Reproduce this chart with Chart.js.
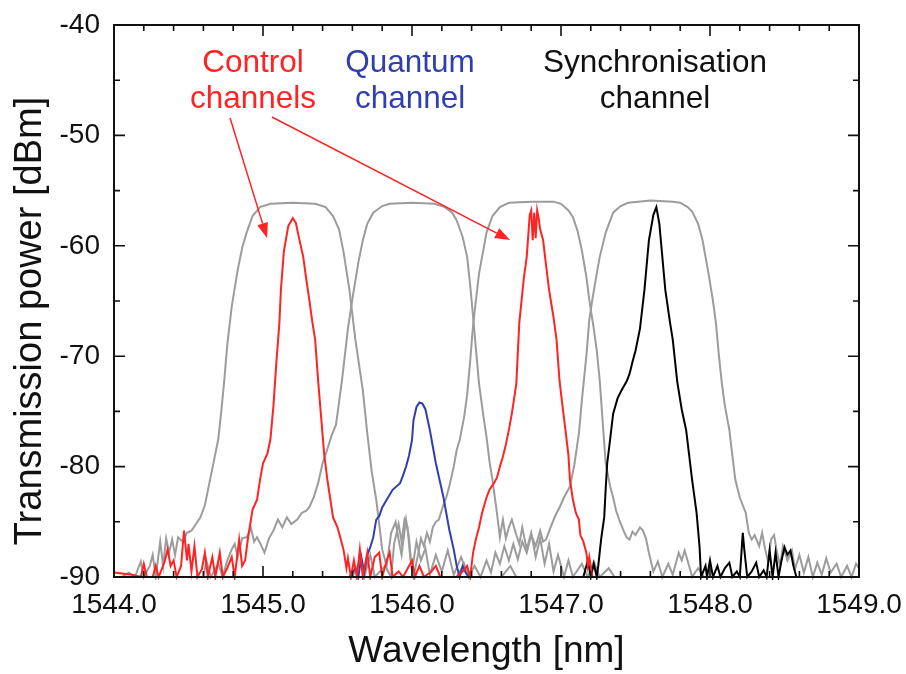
<!DOCTYPE html>
<html>
<head>
<meta charset="utf-8">
<script src="https://cdn.jsdelivr.net/npm/chart.js@4.4.1/dist/chart.umd.min.js"></script>
<style>
  html, body { margin: 0; padding: 0; background: #fff; }
</style>
</head>
<body>
<canvas id="spectrum" width="906" height="674"></canvas>
<script>
// axis ticks
const xTicks = [1544, 1545, 1546, 1547, 1548, 1549];
const yTicks = [-90, -80, -70, -60, -50, -40];

// filter transmission curves (grey), [wavelength nm, power dBm]
const filter1 = [
  [1544.00,-90],[1544.05,-90],[1544.10,-89.6],[1544.14,-90],[1544.18,-88.6],[1544.20,-90],[1544.24,-89],
  [1544.26,-88],[1544.28,-90],[1544.31,-86.8],[1544.33,-89],[1544.35,-86.5],[1544.37,-87.8],[1544.39,-86.6],
  [1544.41,-88],[1544.43,-86.4],[1544.46,-86.8],[1544.49,-86],[1544.52,-85.8],[1544.55,-85.2],[1544.58,-84.6],
  [1544.61,-83.5],[1544.64,-81.5],[1544.67,-79.5],[1544.70,-77.5],[1544.72,-75],[1544.74,-72.2],[1544.76,-69],
  [1544.79,-65.5],[1544.83,-62.2],[1544.86,-60.2],[1544.89,-58.8],[1544.93,-57.3],[1544.98,-56.5],[1545.05,-56.2],
  [1545.20,-56.1],[1545.35,-56.2],[1545.42,-56.5],[1545.47,-57.3],[1545.51,-58.5],[1545.54,-60.5],[1545.58,-64],
  [1545.62,-68.5],[1545.67,-73.1],[1545.70,-77],[1545.73,-80.5],[1545.76,-83],[1545.80,-87.5],[1545.83,-89],
  [1545.86,-86],[1545.89,-85],[1545.91,-86.6],[1545.93,-88],[1545.96,-84.8],[1545.98,-86.5],[1546.00,-89.5],
  [1546.03,-86.8],[1546.06,-88.5],[1546.09,-87.4],[1546.12,-89.8],[1546.16,-88],[1546.20,-89.5],[1546.24,-87.6],
  [1546.28,-89.8],[1546.33,-88.2],[1546.38,-90],[1546.60,-90],[1546.66,-89],[1546.70,-90],[1547.00,-90],
  [1547.50,-90],[1549.00,-90]
];
const filter2 = [
  [1544.00,-90],[1544.60,-90],[1544.62,-88.5],[1544.65,-90],[1544.70,-88.8],[1544.73,-90],[1544.76,-88.5],
  [1544.79,-87.5],[1544.81,-87],[1544.83,-88.2],[1544.86,-86.5],[1544.89,-86.4],[1544.92,-85.6],[1544.94,-86.8],
  [1544.96,-86.4],[1544.99,-87.2],[1545.01,-87.8],[1545.04,-86.5],[1545.07,-85.8],[1545.10,-84.8],[1545.13,-85.5],
  [1545.16,-84.6],[1545.19,-85.2],[1545.23,-84.8],[1545.26,-84.2],[1545.29,-84.0],[1545.31,-83.7],[1545.34,-82.8],
  [1545.37,-81.5],[1545.40,-79.7],[1545.43,-78.5],[1545.46,-77.2],[1545.49,-76.2],[1545.53,-72.2],[1545.57,-67.5],
  [1545.60,-64.8],[1545.64,-61.5],[1545.67,-59.5],[1545.70,-58.0],[1545.74,-57.0],[1545.80,-56.4],[1545.85,-56.2],
  [1546.00,-56.1],[1546.15,-56.2],[1546.22,-56.5],[1546.27,-57.0],[1546.30,-57.7],[1546.34,-59.2],[1546.37,-61],
  [1546.39,-63.5],[1546.41,-66.4],[1546.43,-69.5],[1546.45,-72.5],[1546.48,-75.5],[1546.50,-77.3],[1546.52,-79.5],
  [1546.54,-81.2],[1546.57,-84.2],[1546.59,-86.4],[1546.61,-84.8],[1546.63,-86.5],[1546.65,-85.5],[1546.67,-84.8],
  [1546.70,-86.2],[1546.72,-87],[1546.74,-85.5],[1546.77,-87.5],[1546.80,-86],[1546.83,-88.2],[1546.86,-86.5],
  [1546.89,-88.8],[1546.92,-87],[1546.95,-89.5],[1546.98,-88],[1547.02,-90],[1547.05,-88.5],[1547.08,-90],
  [1547.14,-88.8],[1547.18,-90],[1547.22,-88.6],[1547.26,-90],[1547.32,-89.2],[1547.36,-90],[1549.00,-90]
];
const filter3 = [
  [1544.00,-90],[1545.60,-90],[1545.65,-88.5],[1545.68,-90],[1545.72,-88],[1545.75,-90],[1545.82,-89],
  [1545.86,-90],[1545.88,-87],[1545.91,-85.2],[1545.93,-86.8],[1545.95,-84.8],[1545.97,-85.5],[1545.99,-88.5],
  [1546.01,-90],[1546.04,-88],[1546.06,-86.5],[1546.08,-87.2],[1546.10,-86],[1546.12,-86.8],[1546.14,-85.5],
  [1546.16,-85],[1546.18,-84.8],[1546.21,-83.5],[1546.23,-82.8],[1546.25,-81.8],[1546.28,-80],[1546.30,-78.5],
  [1546.32,-77.6],[1546.35,-75.5],[1546.37,-73.5],[1546.39,-70.5],[1546.41,-67.2],[1546.43,-64.8],[1546.45,-62.5],
  [1546.48,-60.3],[1546.50,-58.8],[1546.54,-57.3],[1546.59,-56.5],[1546.65,-56.1],[1546.80,-56.0],[1546.95,-56.0],
  [1547.00,-56.2],[1547.05,-56.8],[1547.08,-57.4],[1547.11,-58.6],[1547.14,-60.4],[1547.17,-62.8],[1547.19,-64.9],
  [1547.22,-67.5],[1547.24,-69.5],[1547.26,-72.2],[1547.28,-76],[1547.30,-79.7],[1547.33,-81.8],[1547.35,-82.8],
  [1547.37,-84],[1547.39,-84.8],[1547.42,-85.8],[1547.44,-86.4],[1547.46,-86.6],[1547.48,-85.9],[1547.50,-86.2],
  [1547.53,-85.5],[1547.55,-85.8],[1547.57,-86.5],[1547.59,-87.8],[1547.62,-89.5],[1547.65,-88.6],[1547.68,-90],
  [1547.72,-88.8],[1547.75,-89.8],[1547.79,-87.8],[1547.81,-88.5],[1547.83,-87.6],[1547.86,-89],[1547.88,-90],
  [1547.92,-89.2],[1547.96,-90],[1549.00,-90]
];
const filter4 = [
  [1544.00,-90],[1546.30,-90],[1546.35,-88.8],[1546.38,-90],[1546.42,-89],[1546.46,-90],[1546.50,-88.5],
  [1546.53,-89.6],[1546.56,-87.8],[1546.59,-88.8],[1546.62,-87.2],[1546.65,-88.5],[1546.68,-87],[1546.71,-88.4],
  [1546.74,-86.8],[1546.77,-87.8],[1546.80,-86.2],[1546.83,-87.2],[1546.86,-85.8],[1546.88,-86.8],[1546.90,-86.6],
  [1546.93,-85.5],[1546.96,-84.5],[1546.99,-83.7],[1547.02,-82.8],[1547.06,-81.8],[1547.09,-79.8],[1547.12,-77],
  [1547.14,-74],[1547.17,-70],[1547.19,-66.7],[1547.21,-64.9],[1547.24,-62.5],[1547.26,-61],[1547.30,-58.8],
  [1547.35,-57],[1547.40,-56.4],[1547.45,-56.1],[1547.60,-55.9],[1547.75,-56.0],[1547.80,-56.1],[1547.85,-56.5],
  [1547.88,-56.9],[1547.92,-58],[1547.95,-59.5],[1547.97,-61],[1547.99,-62.5],[1548.02,-65],[1548.04,-67],
  [1548.06,-70],[1548.08,-72.5],[1548.10,-74.5],[1548.13,-76.7],[1548.15,-79],[1548.17,-81.2],[1548.20,-82.8],
  [1548.22,-83.5],[1548.24,-84.2],[1548.26,-86],[1548.28,-86.6],[1548.30,-86.2],[1548.33,-87.2],[1548.35,-86],
  [1548.37,-87.5],[1548.39,-88.6],[1548.41,-86.6],[1548.43,-86.2],[1548.45,-87.8],[1548.47,-89],[1548.49,-87.2],
  [1548.52,-88.5],[1548.55,-87.6],[1548.57,-89.3],[1548.60,-88],[1548.63,-89.6],[1548.66,-88.2],[1548.69,-90],
  [1548.72,-88.7],[1548.75,-89.8],[1548.78,-88.3],[1548.81,-89.6],[1548.85,-88.8],[1548.88,-90],[1548.92,-89],
  [1548.95,-90],[1548.98,-88.8],[1549.00,-89.2]
];

// control channels (red)
const control = [
  [1544.00,-89.6],[1544.12,-89.8],[1544.18,-90],[1544.20,-88.8],[1544.22,-90],[1544.26,-90],[1544.28,-89],
  [1544.30,-90],[1544.34,-88.6],[1544.36,-87.5],[1544.38,-89],[1544.40,-88.5],[1544.42,-90],[1544.45,-89],
  [1544.47,-85.8],[1544.49,-88.5],[1544.50,-87],[1544.52,-89.5],[1544.54,-87.2],[1544.56,-90],[1544.59,-89.3],
  [1544.61,-87.8],[1544.63,-90],[1544.66,-88.2],[1544.68,-90],[1544.71,-87.8],[1544.73,-90],[1544.76,-89.2],
  [1544.79,-88.2],[1544.81,-90],[1544.84,-86.6],[1544.86,-89],[1544.88,-88.5],[1544.90,-86.4],[1544.93,-83.9],
  [1544.96,-83],[1544.98,-81.2],[1545.00,-79.7],[1545.03,-78.8],[1545.05,-77.5],[1545.07,-74.5],[1545.09,-70.5],
  [1545.11,-67],[1545.12,-64],[1545.14,-60.5],[1545.17,-58.2],[1545.20,-57.5],[1545.22,-57.9],[1545.25,-59.8],
  [1545.27,-61],[1545.29,-63],[1545.31,-64.8],[1545.33,-66.8],[1545.35,-68.5],[1545.37,-72.2],[1545.39,-75.5],
  [1545.41,-78.8],[1545.43,-81],[1545.45,-82.8],[1545.47,-84.6],[1545.50,-85.5],[1545.52,-86.5],[1545.54,-87.5],
  [1545.56,-89.2],[1545.57,-88.3],[1545.59,-90],[1545.61,-88.5],[1545.63,-90],[1545.65,-87.5],[1545.67,-90],
  [1545.70,-87.8],[1545.72,-90],[1545.75,-88.2],[1545.78,-87.8],[1545.80,-90],[1545.83,-88.5],[1545.85,-87.8],
  [1545.87,-90],[1545.91,-89.5],[1545.94,-90],[1546.00,-88.5],[1546.02,-90],[1546.05,-89],[1546.08,-90],
  [1546.13,-89.5],[1546.16,-89],[1546.19,-90],[1546.30,-90],[1546.34,-89.5],[1546.37,-89],[1546.39,-90],
  [1546.41,-87.8],[1546.43,-86.5],[1546.45,-85.5],[1546.47,-84.2],[1546.50,-82.8],[1546.52,-82.1],[1546.55,-81.5],
  [1546.57,-81],[1546.59,-80],[1546.61,-79.1],[1546.63,-78],[1546.65,-76.7],[1546.67,-75.2],[1546.70,-72.5],
  [1546.72,-67],[1546.75,-63],[1546.77,-61],[1546.79,-57.2],[1546.80,-56.8],[1546.81,-59.5],[1546.82,-57],
  [1546.83,-59.3],[1546.84,-56.8],[1546.85,-57.5],[1546.86,-58.5],[1546.88,-59.5],[1546.90,-61.8],[1546.92,-64],
  [1546.95,-66.5],[1546.97,-68.5],[1546.99,-72.2],[1547.01,-74.5],[1547.03,-76.7],[1547.05,-79],[1547.06,-81.2],
  [1547.08,-83],[1547.10,-84.2],[1547.12,-84.8],[1547.13,-86.2],[1547.15,-86.8],[1547.17,-87.8],[1547.18,-89],
  [1547.19,-88.2],[1547.21,-90],[1549.00,-90]
];

// quantum channel (blue)
const quantum = [
  [1545.58,-90],[1545.62,-89.2],[1545.64,-90],[1545.66,-88.2],[1545.68,-89.6],[1545.70,-88],[1545.72,-87.3],
  [1545.74,-86.4],[1545.76,-84.8],[1545.78,-84.5],[1545.80,-83.7],[1545.83,-83],[1545.87,-82.1],[1545.92,-81.5],
  [1545.94,-80.8],[1545.96,-80],[1545.98,-79],[1546.00,-77.6],[1546.01,-75.8],[1546.03,-74.6],[1546.05,-74.2],
  [1546.07,-74.3],[1546.09,-74.8],[1546.12,-76.7],[1546.14,-78.2],[1546.16,-79.7],[1546.19,-81.5],[1546.21,-82.7],
  [1546.23,-84.2],[1546.25,-85.7],[1546.28,-87.5],[1546.30,-89],[1546.32,-90],[1546.34,-89],[1546.36,-89.6],
  [1546.38,-90]
];

// synchronisation channel (black)
const sync = [
  [1547.15,-90],[1547.18,-88.5],[1547.20,-90],[1547.22,-88.8],[1547.24,-90],[1547.25,-89],[1547.27,-86.5],
  [1547.29,-84.6],[1547.30,-82],[1547.31,-79.7],[1547.33,-77.5],[1547.35,-75.2],[1547.38,-73.8],[1547.41,-73],
  [1547.44,-72.3],[1547.46,-71.6],[1547.48,-70.5],[1547.50,-69.5],[1547.53,-67.5],[1547.56,-64],[1547.59,-59.5],
  [1547.62,-57.2],[1547.64,-56.5],[1547.66,-58],[1547.67,-59.5],[1547.70,-64],[1547.73,-66.8],[1547.75,-68.5],
  [1547.78,-72.3],[1547.81,-74.8],[1547.84,-76.7],[1547.88,-81.2],[1547.91,-84.2],[1547.93,-87.3],[1547.94,-90],
  [1547.97,-89],[1547.98,-90],[1548.00,-88.5],[1548.02,-90],[1548.05,-89],[1548.07,-90],[1548.10,-89.2],
  [1548.13,-88.7],[1548.15,-90],[1548.18,-89.5],[1548.20,-90],[1548.22,-86],[1548.23,-87.5],[1548.25,-90],
  [1548.28,-89.5],[1548.31,-88.7],[1548.33,-90],[1548.36,-89.4],[1548.38,-90],[1548.40,-87.6],[1548.42,-90],
  [1548.44,-87.8],[1548.46,-90],[1548.48,-88.5],[1548.50,-87.3],[1548.52,-88.0],[1548.54,-87.6],[1548.56,-89],
  [1548.58,-90],[1549.00,-90]
];

const FONT = "'Liberation Sans', Arial, Helvetica, sans-serif";
const RED = '#ff2323';
const BLUE = '#2f3fae';
const GREY = '#9c9c9c';

// text labels and arrows, anchored in data units
const labels = [
  { text: 'Control', x: 1544.933, y: -44.26, color: RED },
  { text: 'channels', x: 1544.933, y: -47.52, color: RED },
  { text: 'Quantum', x: 1545.987, y: -44.26, color: BLUE },
  { text: 'channel', x: 1545.987, y: -47.52, color: BLUE },
  { text: 'Synchronisation', x: 1547.631, y: -44.26, color: '#111' },
  { text: 'channel', x: 1547.631, y: -47.52, color: '#111' }
];
const arrows = [
  { from: [1544.779, -48.42], to: [1545.027, -59.29] },
  { from: [1545.060, -48.33], to: [1546.658, -59.47] }
];

const toXY = arr => arr.map(p => ({ x: p[0], y: p[1] }));

function series(data, color) {
  return {
    data: toXY(data),
    borderColor: color,
    borderWidth: 2,
    pointRadius: 0,
    tension: 0,
    fill: false,
    clip: 3
  };
}

const framePlugin = {
  id: 'frame',
  afterDatasetsDraw(chart) {
    const { ctx, chartArea: a, scales: { x, y } } = chart;
    ctx.save();
    ctx.strokeStyle = '#111';
    ctx.lineWidth = 1.6;
    // minor / major ticks, pointing inward on all four sides
    for (let v = 1544; v <= 1549.001; v += 0.2) {
      const px = x.getPixelForValue(v);
      const major = Math.abs(v - Math.round(v)) < 1e-6;
      const len = major ? 11 : 6;
      ctx.beginPath();
      ctx.moveTo(px, a.bottom); ctx.lineTo(px, a.bottom - len);
      ctx.moveTo(px, a.top); ctx.lineTo(px, a.top + len);
      ctx.stroke();
    }
    for (let v = -90; v <= -40; v += 5) {
      const py = y.getPixelForValue(v);
      const len = v % 10 === 0 ? 11 : 6;
      ctx.beginPath();
      ctx.moveTo(a.left, py); ctx.lineTo(a.left + len, py);
      ctx.moveTo(a.right, py); ctx.lineTo(a.right - len, py);
      ctx.stroke();
    }
    ctx.lineWidth = 2;
    ctx.strokeRect(a.left, a.top, a.right - a.left, a.bottom - a.top);

    // annotations
    ctx.font = '31.5px ' + FONT;
    ctx.textAlign = 'center';
    ctx.textBaseline = 'alphabetic';
    labels.forEach(l => {
      ctx.fillStyle = l.color;
      ctx.fillText(l.text, x.getPixelForValue(l.x), y.getPixelForValue(l.y));
    });
    ctx.strokeStyle = RED;
    ctx.fillStyle = RED;
    ctx.lineWidth = 1.5;
    arrows.forEach(ar => {
      const x0 = x.getPixelForValue(ar.from[0]), y0 = y.getPixelForValue(ar.from[1]);
      const x1 = x.getPixelForValue(ar.to[0]), y1 = y.getPixelForValue(ar.to[1]);
      const ang = Math.atan2(y1 - y0, x1 - x0);
      const head = 15, half = 5.5;
      const bx = x1 - head * Math.cos(ang), by = y1 - head * Math.sin(ang);
      ctx.beginPath();
      ctx.moveTo(x0, y0); ctx.lineTo(bx, by);
      ctx.stroke();
      ctx.beginPath();
      ctx.moveTo(x1, y1);
      ctx.lineTo(bx + half * Math.sin(ang), by - half * Math.cos(ang));
      ctx.lineTo(bx - half * Math.sin(ang), by + half * Math.cos(ang));
      ctx.closePath();
      ctx.fill();
    });

    // y axis title
    ctx.save();
    ctx.translate(31, (a.top + a.bottom) / 2 + 20);
    ctx.rotate(-Math.PI / 2);
    ctx.font = '38px ' + FONT;
    ctx.fillStyle = '#111';
    ctx.textBaseline = 'middle';
    ctx.fillText('Transmission power [dBm]', 0, 0);
    ctx.restore();
    ctx.restore();
  }
};

const ctx = document.getElementById('spectrum').getContext('2d');
new Chart(ctx, {
  type: 'line',
  data: {
    datasets: [
      series(control, RED),
      series(quantum, BLUE),
      series(sync, '#000'),
      series(filter1, GREY),
      series(filter2, GREY),
      series(filter3, GREY),
      series(filter4, GREY)
    ]
  },
  options: {
    responsive: false,
    animation: false,
    layout: { padding: { left: 0, right: 47, top: 25, bottom: 0 } },
    plugins: { legend: { display: false }, tooltip: { enabled: false } },
    scales: {
      x: {
        type: 'linear',
        min: 1544,
        max: 1549,
        afterBuildTicks: s => { s.ticks = xTicks.map(v => ({ value: v })); },
        afterFit: s => { s.height = 97; s.paddingLeft = 0; s.paddingRight = 0; },
        grid: { display: false, drawTicks: false },
        border: { display: false },
        ticks: {
          font: { family: FONT, size: 28 },
          color: '#111',
          padding: 11,
          maxRotation: 0,
          callback: v => Number(v).toFixed(1)
        },
        title: {
          display: true,
          text: 'Wavelength [nm]',
          font: { family: FONT, size: 37 },
          color: '#111',
          padding: { top: 0, bottom: 0 }
        }
      },
      y: {
        type: 'linear',
        min: -90,
        max: -40,
        afterBuildTicks: s => { s.ticks = yTicks.map(v => ({ value: v })); },
        afterFit: s => { s.width = 114; s.paddingTop = 0; s.paddingBottom = 0; },
        grid: { display: false, drawTicks: false },
        border: { display: false },
        ticks: {
          font: { family: FONT, size: 28 },
          color: '#111',
          padding: 14
        }
      }
    }
  },
  plugins: [framePlugin]
});
</script>
</body>
</html>
